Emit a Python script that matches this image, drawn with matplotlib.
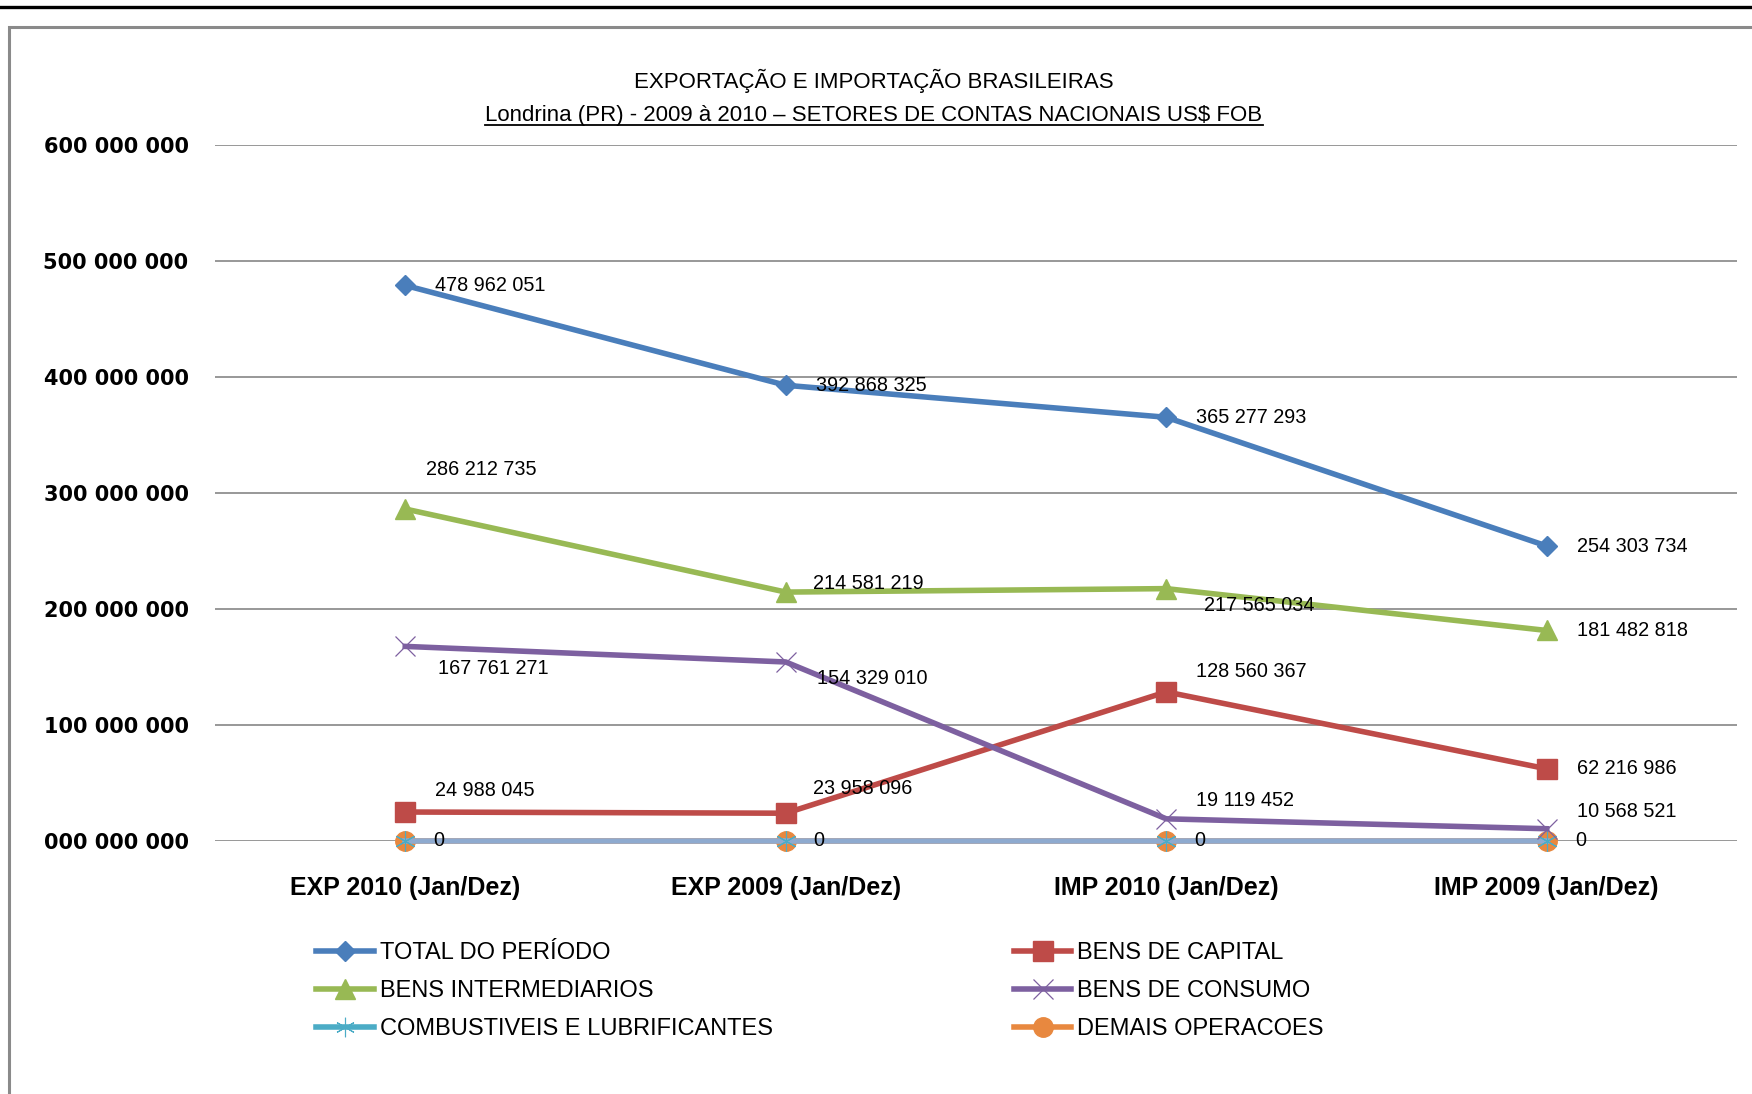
import matplotlib
matplotlib.use("Agg")
import matplotlib.pyplot as plt
from matplotlib.lines import Line2D
from matplotlib.patches import Rectangle

categories = ["EXP 2010 (Jan/Dez)", "EXP 2009 (Jan/Dez)", "IMP 2010 (Jan/Dez)", "IMP 2009 (Jan/Dez)"]
total = [478962051, 392868325, 365277293, 254303734]
capital = [24988045, 23958096, 128560367, 62216986]
intermed = [286212735, 214581219, 217565034, 181482818]
consumo = [167761271, 154329010, 19119452, 10568521]
combust = [0, 0, 0, 0]
demais = [0, 0, 0, 0]
yticks = [0, 100000000, 200000000, 300000000, 400000000, 500000000, 600000000]
title1 = "EXPORTAÇÃO E IMPORTAÇÃO BRASILEIRAS"
title2 = "Londrina (PR) - 2009 à 2010 – SETORES DE CONTAS NACIONAIS US$ FOB"

W, H = 1752, 1094
fig = plt.figure(figsize=(W / 100, H / 100), dpi=100)
fig.patch.set_facecolor("white")

# outer decorations
fig.add_artist(Line2D([0, 1], [1 - 7 / H, 1 - 7 / H], color="black", lw=2.4, transform=fig.transFigure))
fig.add_artist(Rectangle((9 / W, -0.1), 1.2, 1.1 - 27 / H, transform=fig.transFigure,
                         fill=False, edgecolor="#8a8a8a", lw=2.2))

ax = fig.add_axes([215 / W, 1 - 841 / H, (1737 - 215) / W, (841 - 145) / H])
x = list(range(len(categories)))

BLUE = "#4a7ebb"
RED = "#be4b48"
GREEN = "#98b954"
PURPLE = "#7d60a0"
TEAL = "#4bacc6"
ORANGE = "#e8883f"
ZEROLINE = "#8eaacf"

lw = 4.0
ax.plot(x, demais, color=ORANGE, lw=lw, marker="o", ms=14, mec=ORANGE, mfc=ORANGE, zorder=3, clip_on=False)
ax.plot(x, combust, color=ZEROLINE, lw=lw, marker=(6, 2, 0), ms=15, mec=TEAL, mew=0.8, zorder=4, clip_on=False)
ax.plot(x, capital, color=RED, lw=lw, marker="s", ms=14, mec=RED, mfc=RED, zorder=5, clip_on=False)
ax.plot(x, consumo, color=PURPLE, lw=lw, marker="x", ms=14, mec=PURPLE, mew=0.9, zorder=5, clip_on=False)
ax.plot(x, intermed, color=GREEN, lw=lw, marker="^", ms=14, mec=GREEN, mfc=GREEN, zorder=5, clip_on=False)
ax.plot(x, total, color=BLUE, lw=lw, marker="D", ms=10, mec=BLUE, mfc=BLUE, zorder=6, clip_on=False)

ax.set_xlim(-0.5, 3.5)
ax.set_ylim(0, 600000000)
ax.set_yticks(yticks)
ax.set_yticklabels([format(v, "011,").replace(",", " ") for v in yticks],
                   fontfamily="DejaVu Sans", fontweight="bold", fontsize=15)
ax.set_xticks(x)
ax.set_xticklabels(categories, fontfamily="Liberation Sans", fontweight="bold", fontsize=18)
ax.tick_params(axis="y", length=0, pad=19)
ax.tick_params(axis="x", length=0, pad=25)
for s in ax.spines.values():
    s.set_visible(False)
ax.grid(axis="y", color="#868686", lw=1.2, zorder=0)
ax.set_axisbelow(True)


def fmt(v):
    return format(int(v), ",").replace(",", " ")


label_style = dict(fontfamily="Liberation Sans", fontsize=14.3, ha="left", va="center",
                   textcoords="offset pixels", zorder=10, color="black")
offsets = {
    "total": [(30, 0), (30, 0), (30, 0), (30, 0)],
    "intermed": [(21, 39), (27, 9), (38, -17), (30, 0)],
    "consumo": [(33, -22), (31, -17), (30, 18), (30, 17)],
    "capital": [(30, 22), (27, 25), (30, 20), (30, 0)],
    "demais": [(28, 0), (28, 0), (28, 0), (28, 0)],
}
series = {"total": total, "intermed": intermed, "consumo": consumo, "capital": capital, "demais": demais}
for key, vals in series.items():
    for i, v in enumerate(vals):
        ax.annotate(fmt(v), (i, v), xytext=offsets[key][i], **label_style)

# legend
handles = [
    Line2D([], [], color=BLUE, lw=lw, marker="D", ms=10, mfc=BLUE, mec=BLUE),
    Line2D([], [], color=GREEN, lw=lw, marker="^", ms=14, mfc=GREEN, mec=GREEN),
    Line2D([], [], color=TEAL, lw=lw, marker=(6, 2, 0), ms=14, mec=TEAL, mew=0.8),
    Line2D([], [], color=RED, lw=lw, marker="s", ms=14, mfc=RED, mec=RED),
    Line2D([], [], color=PURPLE, lw=lw, marker="x", ms=14, mec=PURPLE, mew=0.9),
    Line2D([], [], color=ORANGE, lw=lw, marker="o", ms=14, mfc=ORANGE, mec=ORANGE),
]
labels = ["TOTAL DO PERÍODO", "BENS INTERMEDIARIOS", "COMBUSTIVEIS E LUBRIFICANTES",
          "BENS DE CAPITAL", "BENS DE CONSUMO", "DEMAIS OPERACOES"]
fig.legend(handles, labels, ncol=2, loc="upper left", bbox_to_anchor=(316 / W, 1 - 942 / H),
           frameon=False, borderpad=0, borderaxespad=0, handlelength=2.45, handletextpad=0.25,
           columnspacing=10.2, labelspacing=0.68, prop={"family": "Liberation Sans", "size": 17})

# titles
t1 = fig.text(874 / W, 1 - 81 / H, title1, ha="center", va="center",
              fontfamily="Liberation Sans", fontsize=16)
t2 = fig.text(874 / W, 1 - 115 / H, title2, ha="center", va="center",
              fontfamily="Liberation Sans", fontsize=16)
fig.canvas.draw()
bb = t2.get_window_extent()
uy = bb.y0 + 1
fig.add_artist(Line2D([bb.x0 / W, bb.x1 / W], [uy / H, uy / H], color="black", lw=1.3,
                      transform=fig.transFigure))

fig.savefig("out.png", dpi=100)
